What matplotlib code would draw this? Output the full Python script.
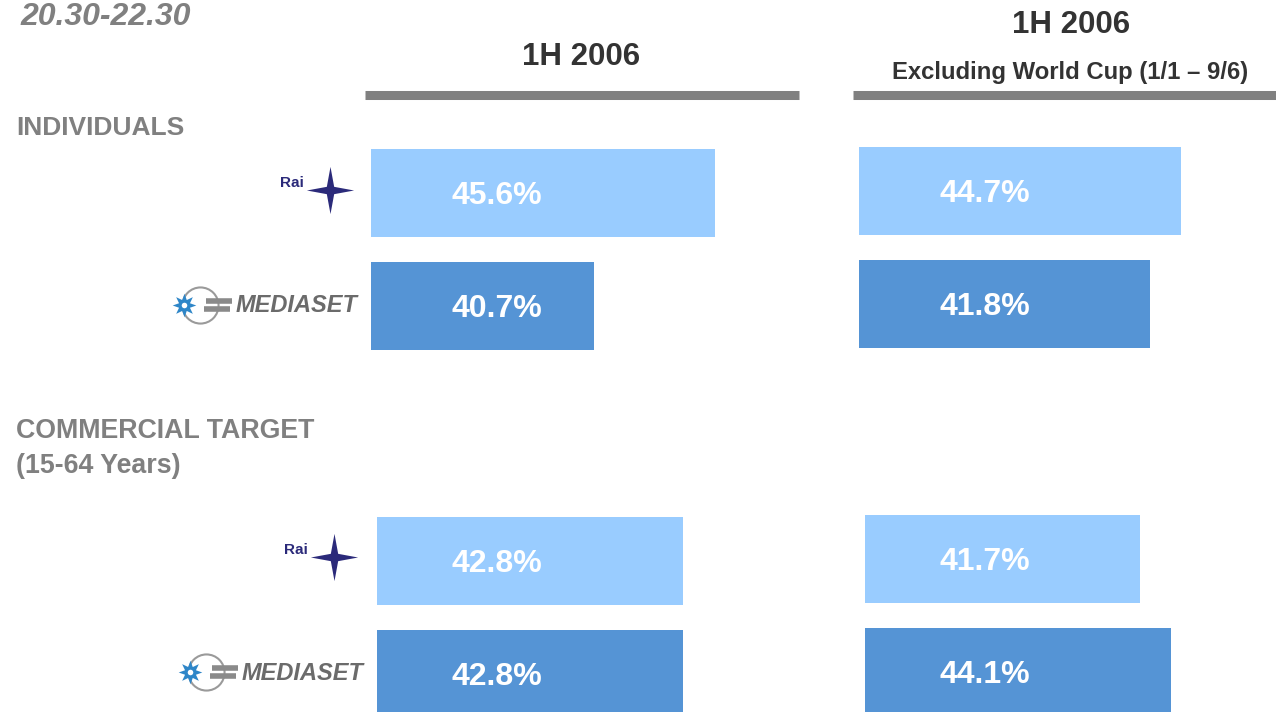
import matplotlib.pyplot as plt
import matplotlib.transforms as mtransforms
from matplotlib.path import Path
import numpy as np

plt.rcParams['font.family'] = ['Liberation Sans', 'DejaVu Sans']

# data
channels = ["Rai", "Mediaset"]
individuals_1h = [45.6, 40.7]
individuals_excl = [44.7, 41.8]
commercial_1h = [42.8, 42.8]
commercial_excl = [41.7, 44.1]

light = "#99CCFF"
dark = "#5594D5"
grey = "#808080"

W, H = 1276, 712
fig = plt.figure(figsize=(W / 100, H / 100), dpi=100)

# overlay in pixel coordinates for titles, rules and logos
bg = fig.add_axes([0, 0, 1, 1])
bg.set_xlim(0, W)
bg.set_ylim(H, 0)
bg.axis("off")

bg.text(20, 17, "20.30-22.30", fontsize=23, fontweight="bold", fontstyle="italic",
        color=grey, ha="left", va="center")
bg.text(581, 57, "1H 2006", fontsize=22.5, fontweight="bold", color="#333333",
        ha="center", va="center")
bg.text(1071, 25, "1H 2006", fontsize=22.5, fontweight="bold", color="#333333",
        ha="center", va="center")
bg.text(1070, 72, "Excluding World Cup (1/1 \u2013 9/6)", fontsize=17.2,
        fontweight="bold", color="#333333", ha="center", va="center")
bg.plot([365, 799], [95, 95], color=grey, lw=6.5, solid_capstyle="butt")
bg.plot([853, 1276], [95, 95], color=grey, lw=6.5, solid_capstyle="butt")

bg.text(16, 128, "INDIVIDUALS", fontsize=19, fontweight="bold", color=grey,
        ha="left", va="center")
bg.text(16, 431, "COMMERCIAL TARGET", fontsize=19.3, fontweight="bold", color=grey,
        ha="left", va="center")
bg.text(16, 466, "(15-64 Years)", fontsize=19.3, fontweight="bold", color=grey,
        ha="left", va="center")

# four-point star for the Rai mark
ang = np.deg2rad(np.arange(90, 450, 45))
rad = np.array([1, 0.22, 1, 0.22, 1, 0.22, 1, 0.22])
verts = np.column_stack([rad * np.cos(ang), rad * np.sin(ang)])
verts = np.vstack([verts, verts[:1]])
rai_star = Path(verts, [Path.MOVETO] + [Path.LINETO] * 7 + [Path.CLOSEPOLY])


def rai_logo(x, y):
    bg.text(x - 50, y - 7, "Rai", fontsize=11, fontweight="bold", color="#2B2A7A",
            ha="left", va="center")
    bg.plot([x], [y], marker=rai_star, markersize=34, color="#2B2A7A", mec="none")


def mediaset_logo(x, y):
    bg.plot([x + 16], [y], marker="o", markersize=26, mfc="none", mec="#9a9a9a", mew=1.5)
    bg.plot([x + 22, x + 48], [y - 4, y - 4], color="#8a8a8a", lw=4, solid_capstyle="butt")
    bg.plot([x + 20, x + 46], [y + 4, y + 4], color="#8a8a8a", lw=4, solid_capstyle="butt")
    bg.plot([x], [y], marker=(8, 1, 0), markersize=17, color="#2E86C8", mec="none")
    bg.plot([x], [y], marker="o", markersize=4, color="white", mec="none")
    bg.text(x + 52, y + 1, "MEDIASET", fontsize=17, fontweight="bold", fontstyle="italic",
            color="#6b6b6b", ha="left", va="center")


rai_logo(330, 190)
mediaset_logo(184, 305)
rai_logo(334, 557)
mediaset_logo(190, 672)

# bar panels: (values, left px, top px, x floor, px per unit, label centre px)
panels = [
    (individuals_1h, 371, 149, 31.67, 24.69, 497),
    (individuals_excl, 859, 147, 14.58, 10.69, 985),
    (commercial_1h, 377, 517, 30.41, 24.69, 497),
    (commercial_excl, 864.5, 515, 20.38, 12.92, 985),
]
step = 113
bar_h = 88 / step

for vals, x0, y0, floor, scale, lab_x in panels:
    width_px = 420
    height_px = (1 + bar_h) * step
    ax = fig.add_axes([x0 / W, 1 - (y0 + height_px) / H, width_px / W, height_px / H])
    ax.axis("off")
    ax.set_xlim(floor, floor + width_px / scale)
    ax.set_ylim(1 + bar_h / 2, -bar_h / 2)
    ax.barh(range(len(vals)), [v - floor for v in vals], left=floor, height=bar_h,
            color=[light, dark])
    tr = mtransforms.blended_transform_factory(fig.transFigure, ax.transData)
    for i, v in enumerate(vals):
        ax.text(lab_x / W, i + 3 / step, f"{v:.1f}%", transform=tr, fontsize=23,
                fontweight="bold", color="white", ha="center", va="center")

fig.savefig("out.png", dpi=100)
